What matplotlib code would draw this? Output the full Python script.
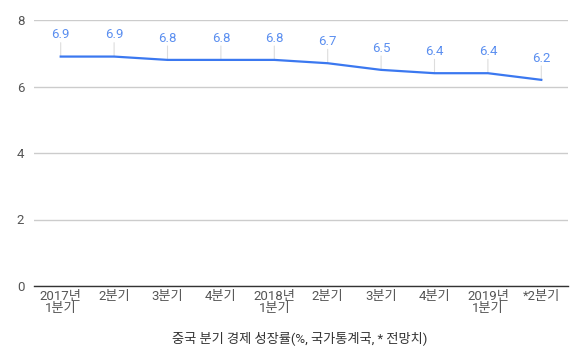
import matplotlib.pyplot as plt

plt.rcParams['font.family'] = ['Roboto', 'Noto Sans CJK KR', 'DejaVu Sans']

# 중국 분기 경제 성장률
quarters = ["2017년\n1분기", "2분기", "3분기", "4분기", "2018년\n1분기",
            "2분기", "3분기", "4분기", "2019년\n1분기", "*2분기"]
growth = [6.9, 6.9, 6.8, 6.8, 6.8, 6.7, 6.5, 6.4, 6.4, 6.2]
y_ticks = [0, 2, 4, 6, 8]

fig = plt.figure(figsize=(5.82, 3.54), dpi=100)
ax = fig.add_axes([34 / 582, 68 / 354, 534 / 582, 266 / 354])

x = list(range(len(growth)))
ax.plot(x, growth, color="#3b78f0", linewidth=1.6, zorder=3)

# labels above the points, with a thin stem
for xi, v in zip(x, growth):
    ax.annotate("", xy=(xi, v), xytext=(0, 10), textcoords="offset points",
                arrowprops=dict(arrowstyle="-", color="#dddddd", lw=0.8,
                                shrinkA=0, shrinkB=0), zorder=2)
    ax.annotate(f"{v}", xy=(xi, v), xytext=(0, 11), textcoords="offset points",
                ha="center", va="bottom", fontsize=9.5, color="#5b8ff0")

ax.set_xlim(-0.5, len(growth) - 0.5)
ax.set_ylim(0, 8)
ax.set_yticks(y_ticks)
ax.set_yticklabels([str(t) for t in y_ticks])
ax.set_xticks(x)
ax.set_xticklabels(quarters, linespacing=0.85)

ax.grid(axis="y", color="#cccccc", linewidth=1)
ax.set_axisbelow(True)
for s in ["top", "right", "left"]:
    ax.spines[s].set_visible(False)
ax.spines["bottom"].set_color("#333333")
ax.spines["bottom"].set_linewidth(1)
ax.tick_params(axis="both", length=0, labelsize=9.5, labelcolor="#555555")
ax.tick_params(axis="x", pad=3)
ax.tick_params(axis="y", pad=7)

fig.text(0.515, 1 - 338 / 354, "중국 분기 경제 성장률(%, 국가통계국, * 전망치)",
         ha="center", va="center", fontsize=9.5, color="#333333")

fig.savefig("out.png", dpi=100)
